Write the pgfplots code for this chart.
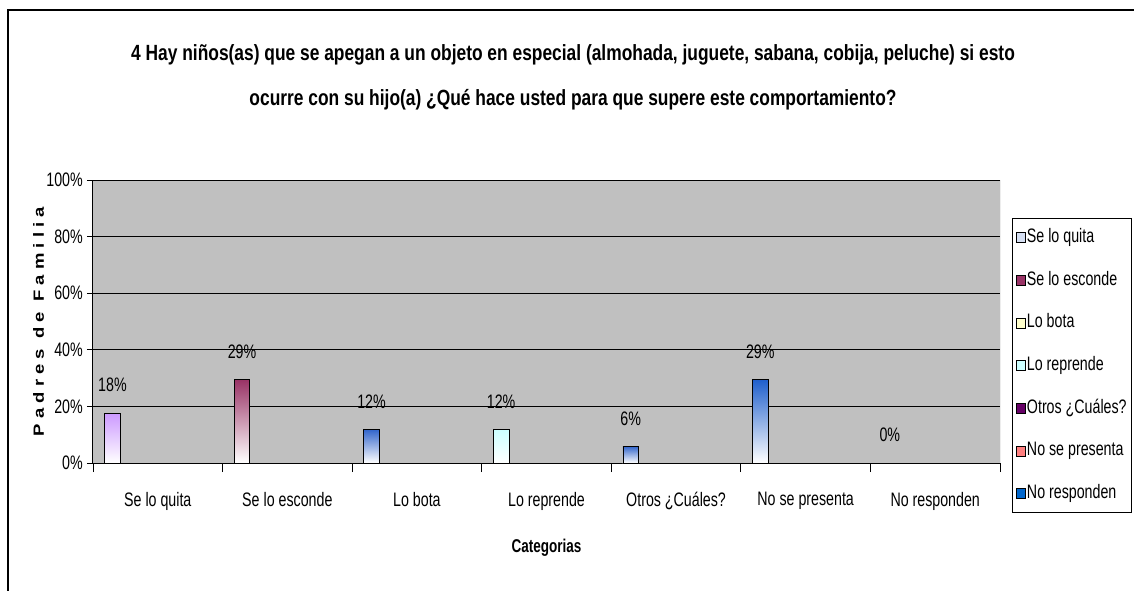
\documentclass[border=0pt]{standalone}
\usepackage{pgfplots}
\pgfplotsset{compat=1.18}
\usepackage{fontspec}
\setmainfont{Liberation Sans}[FakeStretch=0.73]
\newfontfamily\titlefam{Liberation Sans}[FakeStretch=0.79]
\newfontfamily\plainsans{Liberation Sans}

\definecolor{bgray}{HTML}{C0C0C0}
\definecolor{c1}{HTML}{CC99FF}
\definecolor{c2}{HTML}{993366}
\definecolor{c3}{HTML}{3366CC}
\definecolor{c4}{HTML}{CCFFFF}
\definecolor{c6}{HTML}{2060CC}
\definecolor{l1}{HTML}{D5DFF3}
\definecolor{l3}{HTML}{FFFFCC}
\definecolor{l5}{HTML}{660066}
\definecolor{l6}{HTML}{FF8080}
\definecolor{l7}{HTML}{0066CC}

\newcommand\tickfont{\fontsize{19.5}{23}\selectfont}
\newcommand\titlefont{\fontsize{22}{26}\selectfont\titlefam\bfseries}
\newcommand\catfont{\fontsize{18.5}{22}\selectfont\bfseries}

\pgfplotsset{
  mybar/.style={ybar, bar width=0.12, bar shift=0pt, draw=black, line width=0.8pt,
    top color=#1, bottom color=white, forget plot,
    nodes near coords, point meta=explicit symbolic,
    every node near coord/.append style={anchor=center, yshift=28pt, font=\tickfont, text=black}},
}

\begin{document}
\begin{tikzpicture}[x=1pt,y=1pt]
\useasboundingbox (0,0) rectangle (1134,-590);
\draw[black, line width=1.2pt] (8,-600) -- (8,-10) -- (1140,-10);
\node[font=\titlefont] at (573,-55) {4 Hay niños(as) que se apegan a un objeto en especial (almohada, juguete, sabana, cobija, peluche) si esto};
\node[font=\titlefont] at (573,-100) {ocurre con su hijo(a) ¿Qué hace usted para que supere este comportamiento?};

\begin{axis}[
  at={(93pt,-463pt)}, anchor=south west,
  width=907pt, height=283pt, scale only axis,
  xmin=0, xmax=7, ymin=0, ymax=100,
  axis background/.style={fill=bgray},
  axis x line*=bottom, axis y line*=left,
  axis line style={black, line width=1pt},
  ytick={0,20,40,60,80,100},
  yticklabels={0\%,20\%,40\%,60\%,80\%,100\%},
  ymajorgrids, major grid style={black, line width=0.8pt},
  xtick={0.5,1.5,2.5,3.5,4.5,5.5,6.5},
  xticklabels={Se lo quita,Se lo esconde,Lo bota,Lo reprende,Otros ¿Cuáles?,No se presenta,No responden},
  minor xtick={0,1,2,3,4,5,6,7},
  tick align=outside,
  major tick length=6pt, minor tick length=9pt,
  major x tick style={draw=none},
  minor x tick style={black, line width=0.8pt},
  ytick style={black, line width=0.8pt},
  ticklabel style={font=\tickfont},
  xticklabel style={anchor=north, inner sep=0pt, yshift=-23pt},
  yticklabel style={anchor=east, inner sep=0pt, xshift=-4pt},
  xlabel={Categorias},
  xlabel style={font=\catfont, at={(axis description cs:0.5,-0.3)}, anchor=center},
  ylabel={\scalebox{1}[0.8]{\fontsize{18.5}{20}\selectfont\plainsans\bfseries P a d r e s \ d e \ F a m i l i a}},
  ylabel style={at={(axis description cs:-0.06,0.5)}, anchor=center},
  legend image code/.code={\draw[#1] (0pt,-5pt) rectangle (9pt,5pt);},
  legend cell align=left,
  legend style={at={(1.0132,0.8657)}, anchor=north west, draw=black, line width=0.8pt,
    fill=white, font=\tickfont, row sep=24.7pt, inner xsep=4pt, inner ysep=10pt,
    nodes={inner xsep=1pt, inner ysep=0pt, text height=14pt, text depth=4pt}},
]
\addlegendimage{draw=black, line width=0.6pt, fill=l1}
\addlegendentry{Se lo quita}
\addlegendimage{draw=black, line width=0.6pt, fill=c2}
\addlegendentry{Se lo esconde}
\addlegendimage{draw=black, line width=0.6pt, fill=l3}
\addlegendentry{Lo bota}
\addlegendimage{draw=black, line width=0.6pt, fill=c4}
\addlegendentry{Lo reprende}
\addlegendimage{draw=black, line width=0.6pt, fill=l5}
\addlegendentry{Otros ¿Cuáles?}
\addlegendimage{draw=black, line width=0.6pt, fill=l6}
\addlegendentry{No se presenta}
\addlegendimage{draw=black, line width=0.6pt, fill=l7}
\addlegendentry{No responden}

\addplot[mybar=c1] coordinates {(0.15,17.6) [18\%]};
\addplot[mybar=c2] coordinates {(1.15,29.4) [29\%]};
\addplot[mybar=c3] coordinates {(2.15,11.8) [12\%]};
\addplot[mybar=c4] coordinates {(3.15,11.8) [12\%]};
\addplot[mybar=c3] coordinates {(4.15,5.9) [6\%]};
\addplot[mybar=c6] coordinates {(5.15,29.4) [29\%]};
\addplot[ybar, bar width=0.12, bar shift=0pt, draw=none, fill=none, forget plot,
  nodes near coords, point meta=explicit symbolic,
  every node near coord/.append style={anchor=center, yshift=28pt, font=\tickfont, text=black}]
  coordinates {(6.15,0) [0\%]};

\draw[black!55, line width=1pt] (rel axis cs:1,0) -- (rel axis cs:1,1);
\end{axis}
\end{tikzpicture}
\end{document}
